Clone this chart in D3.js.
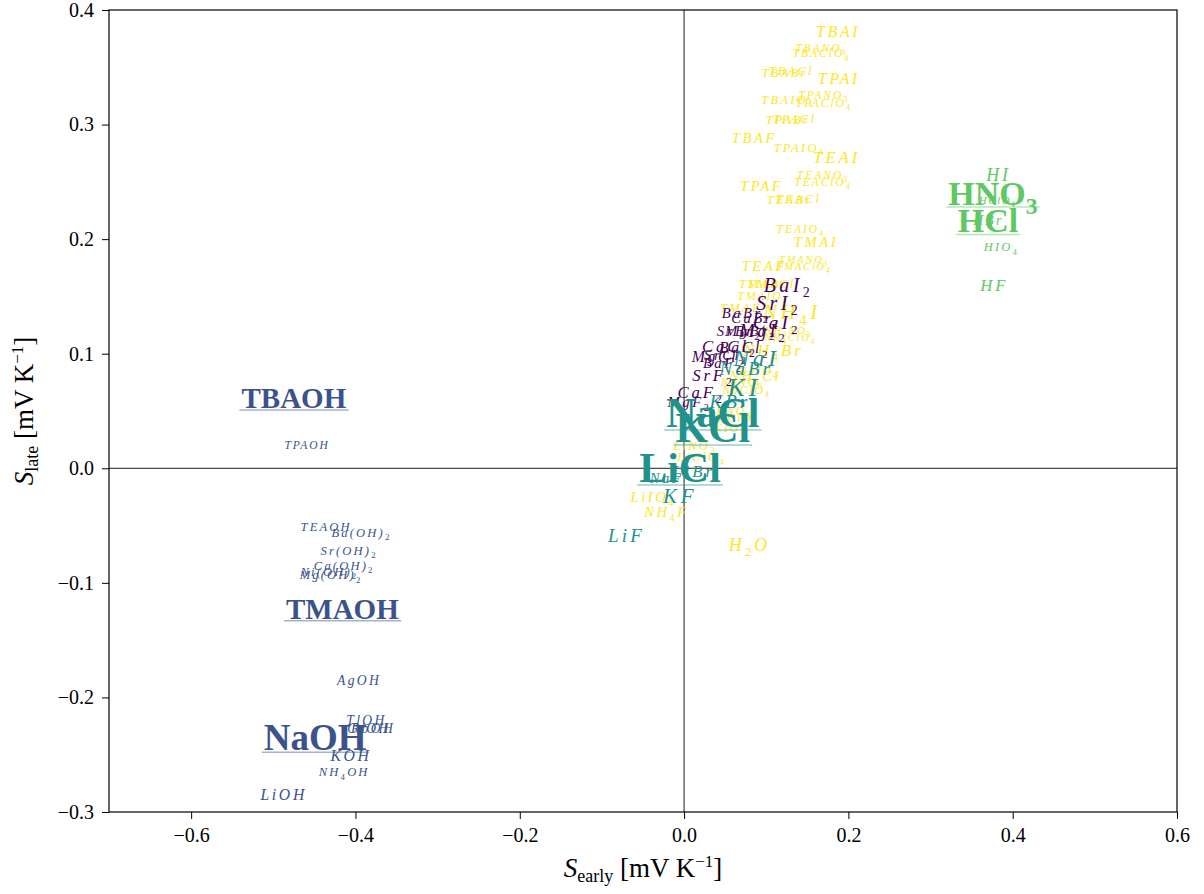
<!DOCTYPE html>
<html>
<head>
  <meta charset="utf-8">
  <title>S early vs S late</title>
  <script src="https://d3js.org/d3.v7.min.js"></script>
  <style>
    body { margin: 0; background: white; }
    text { font-family: "Liberation Serif", "DejaVu Serif", serif; }
  </style>
</head>
<body>
  <div id="graphContainer"></div>
  <script>
    // colour per group (viridis, 5 steps)
    var groupColors = {
      earth: "#440154", hydroxide: "#3b528b", alkali: "#21918c", acid: "#5ec962", salt: "#fde725"
    };

    // labels drawn bold and upright
    var highlighted = ["TBAOH", "TMAOH", "NaOH", "NaCl", "KCl", "LiCl", "HNO_3", "HCl"];

    // other salts (yellow)
    var saltNames = ["TBAI", "TBANO_3", "TBAClO_4", "TBABr", "TBACl", "TPAI", "TBAIO_4", "TPANO_3", "TPAClO_4",
      "TPABr", "TPACl", "TBAF", "TPAIO_4", "TEAI", "TEANO_3", "TEAClO_4", "TPAF", "TEABr", "TEACl", "TEAIO_4",
      "TMAI", "TMANO_3", "TMAClO_4", "TEAF", "TMABr", "TMACl", "TMAIO_4", "TMAF", "NH_4I", "NH_4NO_3",
      "NH_4ClO_4", "NH_4Br", "NaIO_4", "NH_4Cl", "NaNO_3", "NaClO_4", "KNO_3", "KClO_4", "KIO_4",
      "LiNO_3", "LiClO_4", "LiIO_4", "NH_4F", "H_2O"];
    var saltEarly = [0.186, 0.166, 0.166, 0.121, 0.129, 0.187, 0.125, 0.169, 0.169,
      0.125, 0.133, 0.084, 0.139, 0.184, 0.168, 0.168, 0.093, 0.127, 0.138, 0.141,
      0.159, 0.145, 0.145, 0.096, 0.095, 0.105, 0.095, 0.068, 0.129, 0.126,
      0.128, 0.107, 0.090, 0.085, 0.070, 0.075, 0.060, 0.065, 0.055,
      0.012, 0.020, -0.039, -0.023, 0.078];
    var saltLate = [0.381, 0.367, 0.362, 0.345, 0.347, 0.340, 0.322, 0.326, 0.319,
      0.304, 0.305, 0.288, 0.280, 0.271, 0.256, 0.250, 0.246, 0.234, 0.235, 0.209,
      0.197, 0.182, 0.176, 0.176, 0.161, 0.161, 0.150, 0.140, 0.136, 0.120,
      0.114, 0.103, 0.085, 0.080, 0.075, 0.068, 0.050, 0.044, 0.035,
      0.020, 0.010, -0.025, -0.038, -0.067];
    var saltWeight = [7.5, 5.5, 5.5, 6, 6, 7.5, 6, 5.5, 5.5,
      6, 6, 7, 6, 8, 5.5, 5.5, 7, 6, 6, 5.5,
      7, 5, 5, 7, 6, 6, 5.5, 6, 10, 5,
      5, 8, 5.5, 7, 5.5, 5.5, 5.5, 5.5, 5.5,
      6, 6, 7, 7, 8.5];

    // alkaline earth halides (purple)
    var earthNames = ["BaI_2", "SrI_2", "CaI_2", "MgI_2", "BaBr_2", "CaBr_2", "SrBr_2", "MgBr_2", "BaCl_2",
      "CaCl_2", "SrCl_2", "MgCl_2", "BaF_2", "SrF_2", "CaF_2", "MgF_2"];
    var earthEarly = [0.125, 0.113, 0.111, 0.095, 0.074, 0.086, 0.066, 0.080, 0.072,
      0.054, 0.050, 0.041, 0.046, 0.034, 0.019, 0.005];
    var earthLate = [0.160, 0.144, 0.127, 0.120, 0.135, 0.131, 0.120, 0.120, 0.105,
      0.106, 0.099, 0.097, 0.092, 0.081, 0.066, 0.058];
    var earthWeight = [9.5, 9.5, 9, 8.5, 7, 7, 7, 7, 7.5, 8, 7, 7.5, 7, 8, 8, 7];

    // alkali halides (teal)
    var alkaliNames = ["NaI", "NaBr", "KI", "KBr", "LiBr", "NaF", "KF", "LiF", "NaCl", "KCl", "LiCl"];
    var alkaliEarly = [0.086, 0.074, 0.071, 0.054, 0.010, -0.023, -0.007, -0.072, 0.035, 0.035, -0.005];
    var alkaliLate = [0.096, 0.087, 0.070, 0.058, -0.003, -0.009, -0.024, -0.059, 0.048, 0.035, 0.000];
    var alkaliWeight = [11, 9, 12, 9, 8, 7, 10, 9, 21, 21, 21];

    // hydroxides (blue)
    var hydroxideNames = ["TPAOH", "TEAOH", "Ba(OH)_2", "Sr(OH)_2", "Ca(OH)_2", "Ni(OH)_2", "Mg(OH)_2",
      "AgOH", "TlOH", "CsOH", "RbOH", "KOH", "NH_4OH", "LiOH", "TBAOH", "TMAOH", "NaOH"];
    var hydroxideEarly = [-0.460, -0.437, -0.394, -0.409, -0.415, -0.433, -0.431,
      -0.397, -0.388, -0.385, -0.380, -0.407, -0.415, -0.489, -0.475, -0.416, -0.449];
    var hydroxideLate = [0.020, -0.051, -0.056, -0.072, -0.085, -0.090, -0.093,
      -0.185, -0.220, -0.227, -0.227, -0.251, -0.265, -0.285, 0.061, -0.123, -0.235];
    var hydroxideWeight = [5.5, 6, 6, 6, 6, 6, 6, 6.5, 6.5, 6.5, 6.5, 7.5, 6, 7.5, 14.5, 14.5, 18.5];

    // acids (green)
    var acidNames = ["HI", "HClO_4", "HBr", "HIO_4", "HF", "HNO_3", "HCl"];
    var acidEarly = [0.381, 0.381, 0.369, 0.385, 0.376, 0.376, 0.370];
    var acidLate = [0.256, 0.234, 0.216, 0.193, 0.160, 0.240, 0.216];
    var acidWeight = [8.5, 5, 6.5, 6, 8, 17, 17];

    var xTicks = [-0.6, -0.4, -0.2, 0.0, 0.2, 0.4, 0.6];
    var yTicks = [-0.3, -0.2, -0.1, 0.0, 0.1, 0.2, 0.3, 0.4];

    var width = 1204;
    var height = 894;
    var margin = { top: 10, right: 27, bottom: 82, left: 109 };

    var x = d3.scaleLinear().domain([-0.7, 0.6]).range([margin.left, width - margin.right]);
    var y = d3.scaleLinear().domain([-0.3, 0.4]).range([height - margin.bottom, margin.top]);
    var size = d3.scaleLinear().domain([0, 10]).range([0, 20]);

    var svg = d3.select("#graphContainer")
      .append("svg")
      .attr("width", width)
      .attr("height", height);

    // zero lines
    svg.append("line")
      .attr("x1", x(-0.7)).attr("x2", x(0.6))
      .attr("y1", y(0)).attr("y2", y(0))
      .attr("stroke", "black").attr("stroke-width", 0.9);
    svg.append("line")
      .attr("x1", x(0)).attr("x2", x(0))
      .attr("y1", y(-0.3)).attr("y2", y(0.4))
      .attr("stroke", "black").attr("stroke-width", 0.9);

    function drawLabel(parent, name, cx, cy, fs, color, bold) {
      if (!bold) fs = fs * 1.05;
      var ls = bold ? 0 : 0.17 * fs;
      var t = parent.append("text")
        .attr("x", cx + ls / 2)
        .attr("y", cy + fs * 0.33)
        .attr("text-anchor", "middle")
        .attr("fill", color)
        .attr("font-size", fs)
        .attr("font-weight", bold ? "bold" : null)
        .attr("font-style", bold ? null : "italic")
        .attr("letter-spacing", bold ? null : ls + "px");
      var shift = 0;
      name.split(/(_\d+)/).forEach(function (p) {
        if (!p) return;
        var sub = p[0] === "_";
        var target = sub ? fs * 0.28 : 0;
        t.append("tspan")
          .attr("dy", target - shift)
          .attr("font-size", sub ? fs * 0.7 : null)
          .attr("font-style", sub ? "normal" : null)
          .text(sub ? p.slice(1) : p);
        shift = target;
      });
      if (bold) {
        var b = t.node().getBBox();
        parent.append("line")
          .attr("x1", b.x - 2).attr("x2", b.x + b.width + 2)
          .attr("y1", cy + fs * 0.4).attr("y2", cy + fs * 0.4)
          .attr("stroke", color)
          .attr("stroke-opacity", 0.45)
          .attr("stroke-width", 1.5);
      }
    }

    var labels = svg.append("g");
    function drawGroup(names, early, late, weight, color, boldPass) {
      names.forEach(function (n, i) {
        var bold = highlighted.indexOf(n) >= 0;
        if (bold !== boldPass) return;
        drawLabel(labels, n, x(early[i]), y(late[i]), size(weight[i]), color, bold);
      });
    }
    [false, true].forEach(function (boldPass) {
      drawGroup(saltNames, saltEarly, saltLate, saltWeight, groupColors.salt, boldPass);
      drawGroup(earthNames, earthEarly, earthLate, earthWeight, groupColors.earth, boldPass);
      drawGroup(alkaliNames, alkaliEarly, alkaliLate, alkaliWeight, groupColors.alkali, boldPass);
      drawGroup(hydroxideNames, hydroxideEarly, hydroxideLate, hydroxideWeight, groupColors.hydroxide, boldPass);
      drawGroup(acidNames, acidEarly, acidLate, acidWeight, groupColors.acid, boldPass);
    });

    // axes
    var fmt = d3.format(".1f");
    var xAxis = svg.append("g")
      .attr("transform", "translate(0," + y(-0.3) + ")")
      .call(d3.axisBottom(x).tickValues(xTicks).tickSize(7).tickPadding(9).tickFormat(fmt));
    var yAxis = svg.append("g")
      .attr("transform", "translate(" + x(-0.7) + ",0)")
      .call(d3.axisLeft(y).tickValues(yTicks).tickSize(7).tickPadding(8).tickFormat(fmt));
    [xAxis, yAxis].forEach(function (a) {
      a.select(".domain").remove();
      a.selectAll("line").attr("stroke", "black").attr("stroke-width", 1);
      a.selectAll("text")
        .attr("font-family", "Liberation Serif, serif")
        .attr("font-size", 20)
        .attr("fill", "black");
    });

    svg.append("rect")
      .attr("x", x(-0.7)).attr("y", y(0.4))
      .attr("width", x(0.6) - x(-0.7))
      .attr("height", y(-0.3) - y(0.4))
      .attr("fill", "none")
      .attr("stroke", "black")
      .attr("stroke-width", 1.2);

    function axisTitle(t, sub) {
      t.append("tspan").attr("font-style", "italic").text("S");
      t.append("tspan").attr("font-size", 18).attr("dy", 5).text(sub);
      t.append("tspan").attr("dy", -5).text(" [mV K");
      t.append("tspan").attr("font-size", 17).attr("dy", -10).text("−1");
      t.append("tspan").attr("dy", 10).text("]");
    }
    axisTitle(svg.append("text")
      .attr("x", (x(-0.7) + x(0.6)) / 2)
      .attr("y", 877)
      .attr("text-anchor", "middle")
      .attr("font-size", 27), "early");
    axisTitle(svg.append("text")
      .attr("transform", "translate(33," + (y(-0.3) + y(0.4)) / 2 + ") rotate(-90)")
      .attr("text-anchor", "middle")
      .attr("font-size", 27), "late");
  </script>
</body>
</html>
